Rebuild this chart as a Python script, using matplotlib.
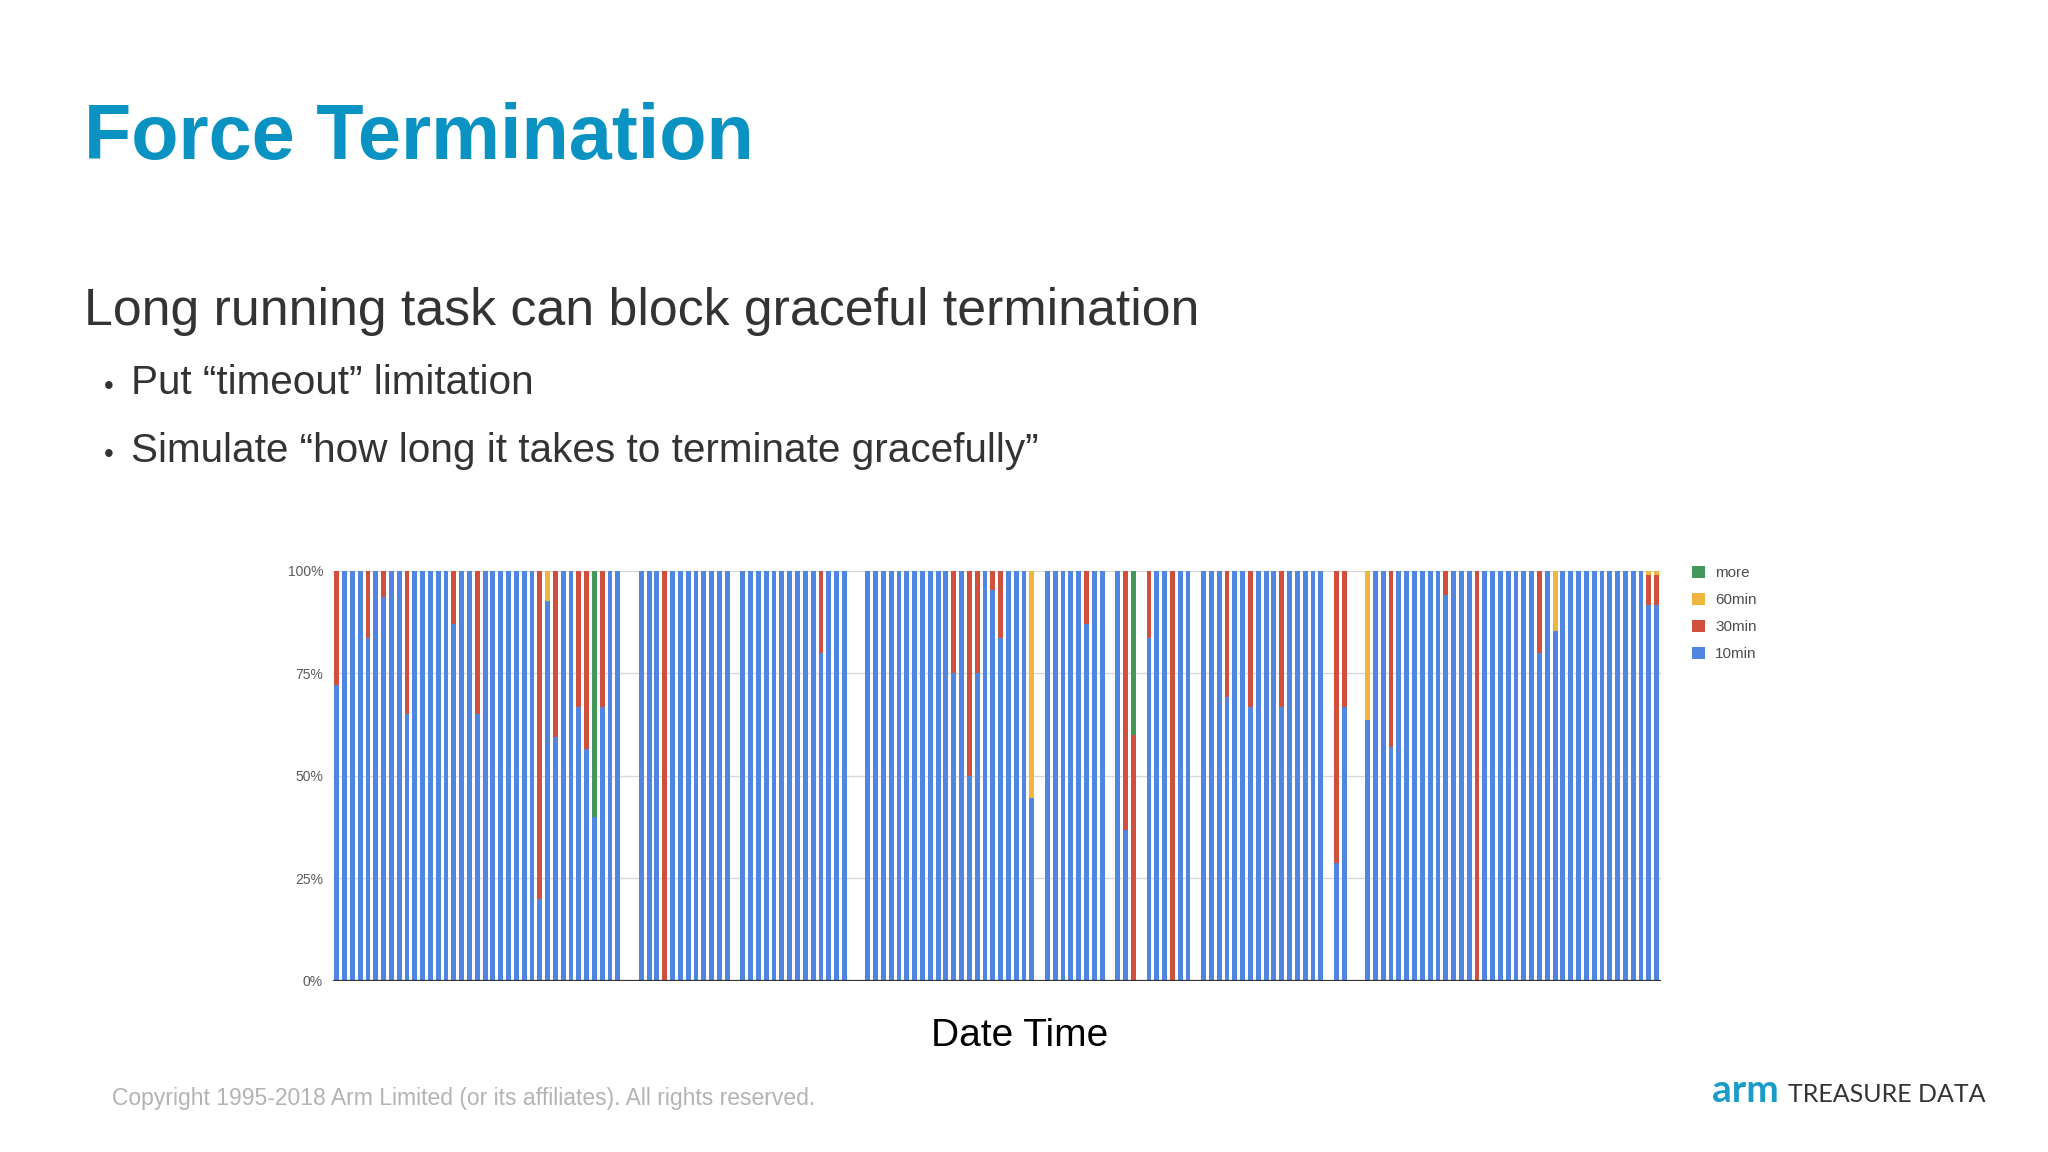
import matplotlib.pyplot as plt
import numpy as np
from matplotlib.patches import Patch

nan = np.nan

# share of tasks (%) per time slot, nan = no data for that slot
ten_min = [
    72, 100, 100, 100, 83.5, 100, 93.5, 100, 100, 65,
    100, 100, 100, 100, 100, 87, 100, 100, 65, 100,
    100, 100, 100, 100, 100, 100, 20, 92.5, 59.5, 100,
    100, 66.7, 56.4, 40, 66.7, 100, 100, nan, nan, 100,
    100, 100, 0, 100, 100, 100, 100, 100, 100, 100,
    100, nan, 100, 100, 100, 100, 100, 100, 100, 100,
    100, 100, 80, 100, 100, 100, nan, nan, 100, 100,
    100, 100, 100, 100, 100, 100, 100, 100, 100, 75,
    100, 50, 75, 100, 95.3, 83.5, 100, 100, 100, 44.6,
    nan, 100, 100, 100, 100, 100, 87, 100, 100, nan,
    100, 36.7, 0, nan, 83.5, 100, 100, 0, 100, 100,
    nan, 100, 100, 100, 69.3, 100, 100, 66.7, 100, 100,
    100, 66.7, 100, 100, 100, 100, 100, nan, 28.6, 66.7,
    nan, nan, 63.6, 100, 100, 57, 100, 100, 100, 100,
    100, 100, 94, 100, 100, 100, 0, 100, 100, 100,
    100, 100, 100, 100, 80, 100, 85.4, 100, 100, 100,
    100, 100, 100, 100, 100, 100, 100, 100, 91.7, 91.7,
]
thirty_min = [
    28, 0, 0, 0, 16.5, 0, 6.5, 0, 0, 35,
    0, 0, 0, 0, 0, 13, 0, 0, 35, 0,
    0, 0, 0, 0, 0, 0, 80, 0, 40.5, 0,
    0, 33.3, 43.6, 0, 33.3, 0, 0, nan, nan, 0,
    0, 0, 100, 0, 0, 0, 0, 0, 0, 0,
    0, nan, 0, 0, 0, 0, 0, 0, 0, 0,
    0, 0, 20, 0, 0, 0, nan, nan, 0, 0,
    0, 0, 0, 0, 0, 0, 0, 0, 0, 25,
    0, 50, 25, 0, 4.7, 16.5, 0, 0, 0, 0,
    nan, 0, 0, 0, 0, 0, 13, 0, 0, nan,
    0, 63.3, 60, nan, 16.5, 0, 0, 100, 0, 0,
    nan, 0, 0, 0, 30.7, 0, 0, 33.3, 0, 0,
    0, 33.3, 0, 0, 0, 0, 0, nan, 71.4, 33.3,
    nan, nan, 0, 0, 0, 43, 0, 0, 0, 0,
    0, 0, 6, 0, 0, 0, 100, 0, 0, 0,
    0, 0, 0, 0, 20, 0, 0, 0, 0, 0,
    0, 0, 0, 0, 0, 0, 0, 0, 7.3, 7.3,
]
sixty_min = [
    0, 0, 0, 0, 0, 0, 0, 0, 0, 0,
    0, 0, 0, 0, 0, 0, 0, 0, 0, 0,
    0, 0, 0, 0, 0, 0, 0, 7.5, 0, 0,
    0, 0, 0, 0, 0, 0, 0, nan, nan, 0,
    0, 0, 0, 0, 0, 0, 0, 0, 0, 0,
    0, nan, 0, 0, 0, 0, 0, 0, 0, 0,
    0, 0, 0, 0, 0, 0, nan, nan, 0, 0,
    0, 0, 0, 0, 0, 0, 0, 0, 0, 0,
    0, 0, 0, 0, 0, 0, 0, 0, 0, 55.4,
    nan, 0, 0, 0, 0, 0, 0, 0, 0, nan,
    0, 0, 0, nan, 0, 0, 0, 0, 0, 0,
    nan, 0, 0, 0, 0, 0, 0, 0, 0, 0,
    0, 0, 0, 0, 0, 0, 0, nan, 0, 0,
    nan, nan, 36.4, 0, 0, 0, 0, 0, 0, 0,
    0, 0, 0, 0, 0, 0, 0, 0, 0, 0,
    0, 0, 0, 0, 0, 0, 14.6, 0, 0, 0,
    0, 0, 0, 0, 0, 0, 0, 0, 1, 1,
]
more = [
    0, 0, 0, 0, 0, 0, 0, 0, 0, 0,
    0, 0, 0, 0, 0, 0, 0, 0, 0, 0,
    0, 0, 0, 0, 0, 0, 0, 0, 0, 0,
    0, 0, 0, 60, 0, 0, 0, nan, nan, 0,
    0, 0, 0, 0, 0, 0, 0, 0, 0, 0,
    0, nan, 0, 0, 0, 0, 0, 0, 0, 0,
    0, 0, 0, 0, 0, 0, nan, nan, 0, 0,
    0, 0, 0, 0, 0, 0, 0, 0, 0, 0,
    0, 0, 0, 0, 0, 0, 0, 0, 0, 0,
    nan, 0, 0, 0, 0, 0, 0, 0, 0, nan,
    0, 0, 40, nan, 0, 0, 0, 0, 0, 0,
    nan, 0, 0, 0, 0, 0, 0, 0, 0, 0,
    0, 0, 0, 0, 0, 0, 0, nan, 0, 0,
    nan, nan, 0, 0, 0, 0, 0, 0, 0, 0,
    0, 0, 0, 0, 0, 0, 0, 0, 0, 0,
    0, 0, 0, 0, 0, 0, 0, 0, 0, 0,
    0, 0, 0, 0, 0, 0, 0, 0, 0, 0,
]

series_names = ['10min', '30min', '60min', 'more']
series_colors = ['#5086e2', '#d14f3d', '#efb53c', '#41985a']
y_ticks = [0, 25, 50, 75, 100]
y_labels = ['0%', '25%', '50%', '75%', '100%']

plt.rcParams['font.family'] = ['Liberation Sans', 'DejaVu Sans']

fig = plt.figure(figsize=(20.48, 11.52), dpi=100)
fig.patch.set_facecolor('white')

# slide text
fig.text(0.041, 0.862, 'Force Termination', fontsize=55.8, fontweight='bold', color='#0a93c2')
fig.text(0.041, 0.718, 'Long running task can block graceful termination', fontsize=37.4, color='#333333')
fig.text(0.0505, 0.658, '•', fontsize=20, color='#333333')
fig.text(0.064, 0.658, 'Put “timeout” limitation', fontsize=29.2, color='#333333')
fig.text(0.0505, 0.599, '•', fontsize=20, color='#333333')
fig.text(0.064, 0.599, 'Simulate “how long it takes to terminate gracefully”', fontsize=29.2, color='#333333')
fig.text(0.0549, 0.041, 'Copyright 1995-2018 Arm Limited (or its affiliates). All rights reserved.',
         fontsize=16.5, color='#b3b3b3')
fig.text(0.836, 0.0434, 'arm', fontsize=28, fontweight='bold', color='#1a9bc8', family=['Lato', 'DejaVu Sans'])
fig.text(0.873, 0.0434, 'TREASURE DATA', fontsize=18, color='#333333', family=['Lato', 'DejaVu Sans'])
fig.text(0.498, 0.092, 'Date Time', fontsize=28, color='black', ha='center')

ax = fig.add_axes([0.1625, 0.1487, 0.6483, 0.3559])

data = [np.array(s, dtype=float) for s in (ten_min, thirty_min, sixty_min, more)]
x = np.arange(len(ten_min))
has_data = ~np.isnan(data[0])
bottom = np.zeros(len(x))
for vals, name, col in zip(data, series_names, series_colors):
    ax.bar(x[has_data], vals[has_data], width=0.62, bottom=bottom[has_data], color=col,
           linewidth=0, label=name, zorder=2)
    bottom = bottom + np.nan_to_num(vals)

ax.set_xlim(-0.5, len(x) - 0.5)
ax.set_ylim(0, 100)
ax.set_yticks(y_ticks)
ax.set_yticklabels(y_labels)
ax.set_xticks([])
ax.tick_params(axis='y', length=0, pad=7, labelsize=10, labelcolor='#5a5a5a')
ax.grid(axis='y', color='#d9d9d9', linewidth=1, zorder=0)
for s in ax.spines.values():
    s.set_visible(False)
ax.axhline(0, color='#333333', linewidth=1.6, zorder=3)
ax.set_facecolor('none')

handles = [Patch(facecolor=c, edgecolor='none') for c in series_colors]
labels = list(series_names)
ax.legend(handles[::-1], labels[::-1], loc='upper left', bbox_to_anchor=(0.826, 0.509),
          bbox_transform=fig.transFigure, frameon=False, fontsize=11, labelcolor='#4d4d4d',
          handlelength=0.85, handleheight=0.85, handletextpad=0.7, labelspacing=0.83,
          borderpad=0, borderaxespad=0)

fig.savefig('out.png', dpi=100, facecolor='white')
